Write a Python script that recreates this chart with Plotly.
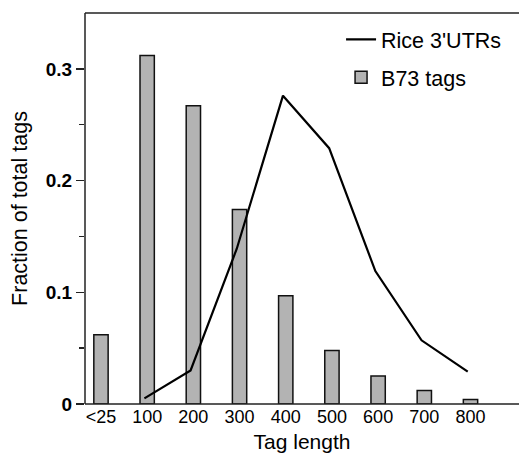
import plotly.graph_objects as go

categories = ["<25", "100", "200", "300", "400", "500", "600", "700", "800"]
b73_tags = [0.062, 0.312, 0.267, 0.174, 0.097, 0.048, 0.025, 0.012, 0.004]
rice_categories = ["100", "200", "300", "400", "500", "600", "700", "800"]
rice_utrs = [0.005, 0.030, 0.139, 0.276, 0.229, 0.119, 0.057, 0.029]

pos = {c: i for i, c in enumerate(categories)}
line_shift = -0.06

FONT = "Liberation Sans, Arial, Helvetica, sans-serif"
AXC = "#222222"

fig = go.Figure()
fig.add_trace(go.Bar(
    x=[pos[c] for c in categories], y=b73_tags, name="B73 tags", legendgroup="b73", legendrank=2,
    width=0.31, marker=dict(color="#b3b3b3", line=dict(color="#111111", width=1.5)),
))
fig.add_trace(go.Scatter(
    x=[pos[c] + line_shift for c in rice_categories], y=rice_utrs, name="Rice 3'UTRs",
    legendgroup="rice", legendrank=1, mode="lines", line=dict(color="#000000", width=2.2),
))

fig.update_layout(
    width=519, height=463,
    margin=dict(l=85, r=0, t=13, b=59, autoexpand=False),
    paper_bgcolor="white", plot_bgcolor="rgba(0,0,0,0)",
    font=dict(family=FONT, color="#000000", size=18),
    showlegend=True, hovermode=False,
    legend=dict(traceorder="grouped", x=0.59, y=0.985, xanchor="left", yanchor="top",
                font=dict(size=21.5), bgcolor="rgba(0,0,0,0)", itemwidth=30,
                tracegroupgap=7),
    bargap=0.0,
    shapes=[
        dict(type="line", xref="paper", yref="paper", x0=0, x1=1, y0=1, y1=1, line=dict(color=AXC, width=1.5)),
        dict(type="line", xref="paper", yref="paper", x0=0, x1=1, y0=0, y1=0, line=dict(color=AXC, width=1.5)),
        dict(type="line", xref="paper", yref="paper", x0=0, x1=0, y0=0, y1=1, line=dict(color=AXC, width=1.5)),
    ],
)
fig.update_xaxes(
    range=[-0.346, 9.05], automargin=False,
    tickmode="array", tickvals=list(range(len(categories))), ticktext=categories,
    showline=False, mirror=False,
    ticks="", showgrid=False, zeroline=False,
    tickfont=dict(size=18), ticklabelstandoff=0,
    title=dict(text="Tag length", font=dict(size=21), standoff=8),
)
fig.update_yaxes(
    range=[0, 0.35], automargin=False,
    tickmode="array", tickvals=[0, 0.1, 0.2, 0.3], ticktext=["<b>0</b>", "<b>0.1</b>", "<b>0.2</b>", "<b>0.3</b>"],
    showline=False,
    ticks="outside", ticklen=8, tickwidth=1.5, tickcolor=AXC,
    minor=dict(tickvals=[0.05, 0.15, 0.25], ticks="outside", ticklen=5, tickwidth=1.5, tickcolor=AXC),
    showgrid=False, zeroline=False,
    tickfont=dict(size=19),
    title=dict(text="Fraction of total tags", font=dict(size=21.5), standoff=12),
)

fig.write_html("out.html", config={"displayModeBar": False, "staticPlot": True},
               post_script=("document.body.style.margin='0';document.body.style.overflow='hidden';"
                            "document.documentElement.style.overflow='hidden';"))
